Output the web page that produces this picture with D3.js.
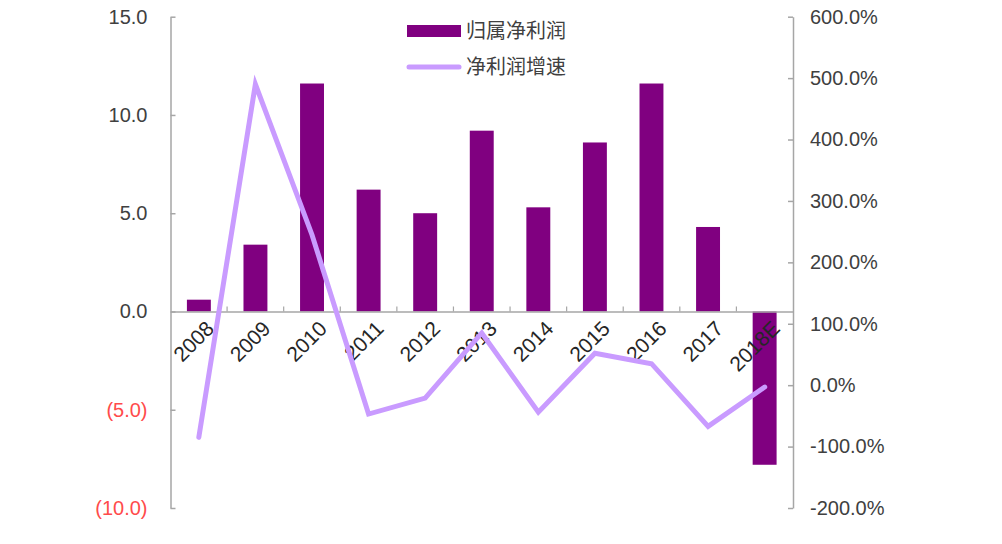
<!DOCTYPE html>
<html>
<head>
<meta charset="utf-8">
<script src="https://cdn.jsdelivr.net/npm/d3@7"></script>
<style>
  html, body { margin: 0; padding: 0; background: #fff; }
  svg { display: block; }
  text { font-family: "Liberation Sans", Arial, "Noto Sans CJK SC", sans-serif; }
</style>
</head>
<body>
<svg id="chart" width="1002" height="544"></svg>
<script>
// ---- data ----
const categories = ["2008","2009","2010","2011","2012","2013","2014","2015","2016","2017","2018E"];
const netProfit = [0.6, 3.4, 11.6, 6.2, 5.0, 9.2, 5.3, 8.6, 11.6, 4.3, -7.8];
const profitGrowth = [-85, 490, 245, -47, -21, 85, -44, 52, 35, -67, -3]; // percent
const leftTicks = [-10, -5, 0, 5, 10, 15];
const rightTicks = [-200, -100, 0, 100, 200, 300, 400, 500, 600];
const seriesNames = ["归属净利润", "净利润增速"];

// ---- layout ----
const svg = d3.select("#chart");
const xL = 170.5, xR = 793, yTop = 16.7, yBot = 508;
const barColor = "#800080", lineColor = "#C99BFF", axisColor = "#A6A6A6", textColor = "#404040", negColor = "#FF4B4B";

const x = d3.scaleBand().domain(categories).range([xL, xR]).paddingInner(0.577).paddingOuter(0.29);
const yL = d3.scaleLinear().domain([-10, 15]).range([yBot, yTop]);
const yR = d3.scaleLinear().domain([-200, 600]).range([yBot, yTop]);
const band = d3.scaleBand().domain(categories).range([xL, xR]);

// bars
svg.append("g").selectAll("rect").data(categories).join("rect")
  .attr("x", d => x(d))
  .attr("width", x.bandwidth())
  .attr("y", (d, i) => yL(Math.max(0, netProfit[i])))
  .attr("height", (d, i) => Math.abs(yL(netProfit[i]) - yL(0)))
  .attr("fill", barColor);

// left axis
const leftAxis = d3.axisLeft(yL).tickValues(leftTicks).tickSize(0).tickPadding(23)
  .tickFormat(d => d < 0 ? "(" + d3.format(".1f")(-d) + ")" : d3.format(".1f")(d));
const gL = svg.append("g").attr("transform", `translate(${xL},0)`).call(leftAxis);
gL.select(".domain").attr("stroke", axisColor).attr("stroke-width", 1.5);
gL.selectAll(".tick text").attr("font-size", 20)
  .attr("fill", d => d < 0 ? negColor : textColor);
gL.selectAll(".tick").append("line").attr("x1", 0).attr("x2", 5).attr("stroke", axisColor).attr("stroke-width", 1.5);

// right axis
const rightAxis = d3.axisRight(yR).tickValues(rightTicks).tickSize(0).tickPadding(17)
  .tickFormat(d => d3.format(".1f")(d).replace("\u2212", "-") + "%");
const gR = svg.append("g").attr("transform", `translate(${xR},0)`).call(rightAxis);
gR.select(".domain").attr("stroke", axisColor).attr("stroke-width", 1.5);
gR.selectAll(".tick text").attr("font-size", 20).attr("fill", textColor);
gR.selectAll(".tick").append("line").attr("x1", 0).attr("x2", -5).attr("stroke", axisColor).attr("stroke-width", 1.5);

// category axis at zero
const xAxis = d3.axisBottom(band).tickSize(0).tickFormat("");
const gX = svg.append("g").attr("transform", `translate(0,${yL(0)})`).call(xAxis);
gX.select(".domain").attr("stroke", axisColor).attr("stroke-width", 1.5);
gX.selectAll(".tick").remove();
gX.selectAll("line.sep").data(categories.slice(1)).join("line")
  .attr("class", "sep")
  .attr("x1", d => band(d)).attr("x2", d => band(d))
  .attr("y1", 0).attr("y2", -5)
  .attr("stroke", axisColor).attr("stroke-width", 1.2);

// category labels
svg.append("g").selectAll("text").data(categories).join("text")
  .attr("transform", d => `translate(${band(d) + band.bandwidth() / 2 + 6},${yL(0) + 8}) rotate(-45)`)
  .attr("text-anchor", "end")
  .attr("dy", "0.7em")
  .attr("font-size", 21)
  .attr("fill", "#262626")
  .text(d => d);

// growth line
const line = d3.line()
  .x((d, i) => band(categories[i]) + band.bandwidth() / 2)
  .y(d => yR(d));
svg.append("path").datum(profitGrowth)
  .attr("d", line)
  .attr("fill", "none")
  .attr("stroke", lineColor)
  .attr("stroke-width", 5)
  .attr("stroke-linejoin", "miter")
  .attr("stroke-linecap", "round");

// legend
const lg = svg.append("g");
const legY = d3.scaleBand().domain(seriesNames).range([13, 85]);
seriesNames.forEach((name, i) => {
  const cy = legY(name) + legY.bandwidth() / 2;
  if (i === 0) {
    lg.append("rect").attr("x", 407).attr("y", cy - 6).attr("width", 54).attr("height", 12).attr("fill", barColor);
  } else {
    lg.append("line").attr("x1", 409).attr("x2", 459).attr("y1", cy).attr("y2", cy)
      .attr("stroke", lineColor).attr("stroke-width", 5).attr("stroke-linecap", "round");
  }
  lg.append("text").attr("x", 466).attr("y", cy).attr("dy", "0.36em")
    .attr("font-size", 20).attr("fill", textColor)
    .attr("font-family", "'Noto Sans CJK SC', sans-serif")
    .text(name);
});
</script>
</body>
</html>
